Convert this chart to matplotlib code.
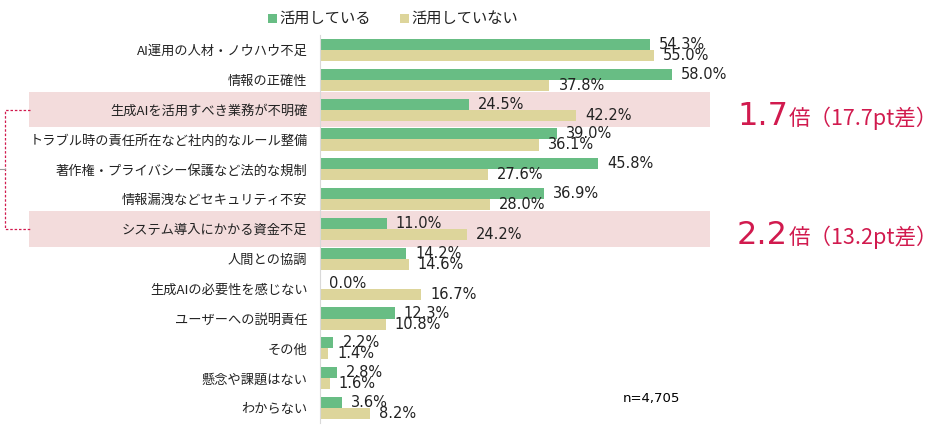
import matplotlib
matplotlib.use("Agg")
import matplotlib.pyplot as plt
import matplotlib.transforms as mtransforms
from matplotlib.patches import Rectangle
import numpy as np

plt.rcParams["font.family"] = ["Noto Sans CJK JP", "DejaVu Sans"]

# ── Data ──────────────────────────────────────────────────────────────────────
categories = [
    "AI運用の人材・ノウハウ不足",
    "情報の正確性",
    "生成AIを活用すべき業務が不明確",
    "トラブル時の責任所在など社内的なルール整備",
    "著作権・プライバシー保護など法的な規制",
    "情報漏洩などセキュリティ不安",
    "システム導入にかかる資金不足",
    "人間との協調",
    "生成AIの必要性を感じない",
    "ユーザーへの説明責任",
    "その他",
    "懸念や課題はない",
    "わからない",
]
using = [54.3, 58.0, 24.5, 39.0, 45.8, 36.9, 11.0, 14.2, 0.0, 12.3, 2.2, 2.8, 3.6]
not_using = [55.0, 37.8, 42.2, 36.1, 27.6, 28.0, 24.2, 14.6, 16.7, 10.8, 1.4, 1.6, 8.2]
series_names = ["活用している", "活用していない"]

highlight_rows = [2, 6]
highlight_big = ["1.7", "2.2"]
highlight_small = ["倍（17.7pt差）", "倍（13.2pt差）"]
sample_note = "n=4,705"

# ── Style ─────────────────────────────────────────────────────────────────────
GREEN = "#68bd84"
TAN = "#ddd59b"
PINK = "#f3dcdc"
RED = "#d11a4e"
W, H = 943, 428

fig = plt.figure(figsize=(W / 100, H / 100), dpi=100)
# axes spans pixel rows 35 (top) .. 423 (bottom), columns 320 .. 708.5
ax = fig.add_axes([320 / W, (H - 423) / H, (708.5 - 320) / W, (423 - 35) / H])

y = np.arange(len(categories))
bh = 0.37
ax.barh(y - bh / 2, using, height=bh, color=GREEN, zorder=3)
ax.barh(y + bh / 2, not_using, height=bh, color=TAN, zorder=3)

for yi, v in zip(y, using):
    ax.annotate(f"{v:.1f}%", (v, yi - bh / 2), xytext=(6.5, 0), textcoords="offset points",
                va="center", ha="left", fontsize=10.5, family="DejaVu Sans", color="#222222", zorder=5)
for yi, v in zip(y, not_using):
    ax.annotate(f"{v:.1f}%", (v, yi + bh / 2), xytext=(6.5, 0), textcoords="offset points",
                va="center", ha="left", fontsize=10.5, family="DejaVu Sans", color="#222222", zorder=5)

ax.set_xlim(0, 64)
ax.set_ylim(len(categories) - 0.5, -0.5)
ax.set_yticks(y)
ax.set_yticklabels(categories, fontsize=9.5, color="#222222")
ax.tick_params(axis="y", length=0, pad=9)
ax.set_xticks([])
for s in ["top", "right", "bottom"]:
    ax.spines[s].set_visible(False)
ax.spines["left"].set_color("#d9d9d9")
ax.spines["left"].set_zorder(4)

# highlight bands reaching past the axes into the label area
tr = mtransforms.blended_transform_factory(fig.transFigure, ax.transData)
for r in highlight_rows:
    band = Rectangle((29 / W, r - 0.59), (710 - 29) / W, 1.18, transform=tr,
                     facecolor=PINK, edgecolor="none", zorder=0, clip_on=False)
    ax.add_patch(band)

# dashed bracket linking the two highlighted rows
r0, r1 = highlight_rows
ax.plot([30 / W, 5 / W, 5 / W, 30 / W], [r0, r0, r1, r1], transform=tr,
        color=RED, lw=0.9, ls=(0, (2, 1.5)), clip_on=False, zorder=2)
ax.plot([0, 5 / W], [(r0 + r1) / 2] * 2, transform=tr, color="#999999", lw=0.8, clip_on=False)

# ratio annotations
for r, big, small in zip(highlight_rows, highlight_big, highlight_small):
    ax.text(737 / W, r + 0.5, big, transform=tr, fontsize=23, color=RED,
            family="DejaVu Sans", va="baseline", ha="left")
    ax.text(789 / W, r + 0.5, small, transform=tr, fontsize=15.5, color=RED,
            va="baseline", ha="left")

ax.text(49.8, 11.67, sample_note, fontsize=9.5, family="DejaVu Sans", va="center", ha="left")

# legend at top
for x0, col, name in [(268, GREEN, series_names[0]), (400, TAN, series_names[1])]:
    fig.patches.append(Rectangle((x0 / W, (H - 23) / H), 9 / W, 9 / H,
                                 transform=fig.transFigure, facecolor=col, edgecolor="none"))
    fig.text((x0 + 11) / W, (H - 18) / H, name, fontsize=11, va="center", ha="left", color="#222222")

fig.savefig("out.png", dpi=100)
